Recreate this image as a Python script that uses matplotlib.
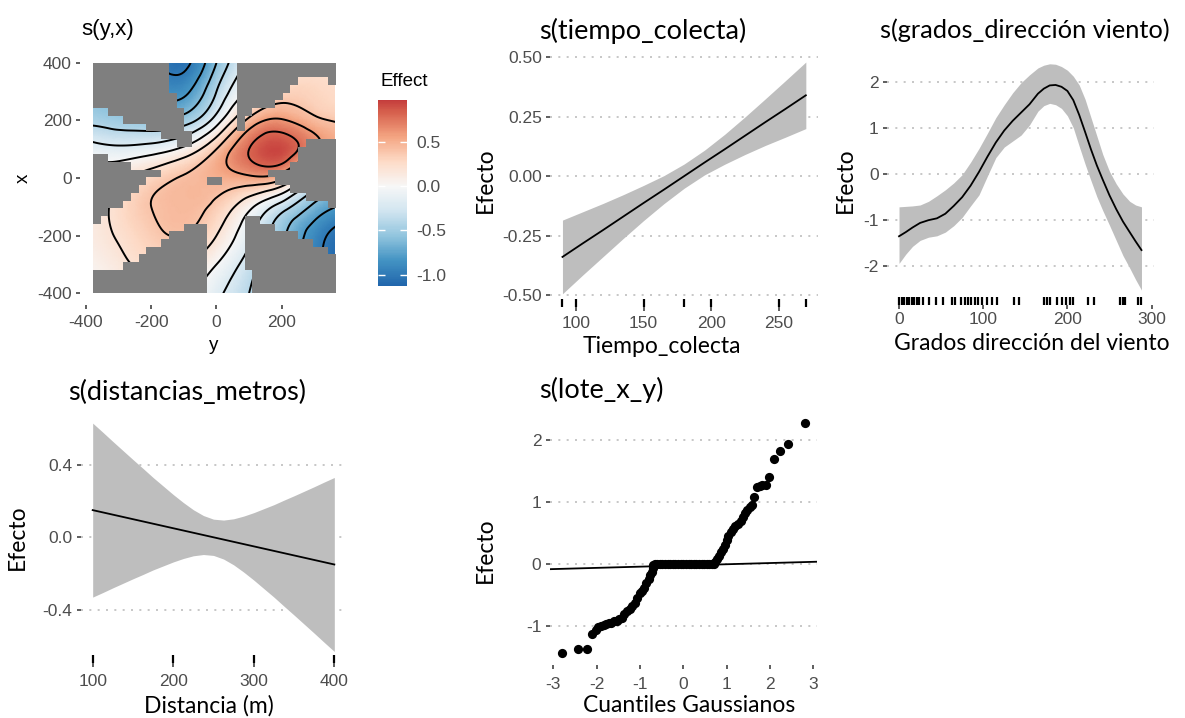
import numpy as np
import matplotlib
matplotlib.use("Agg")
import matplotlib.pyplot as plt
import matplotlib.tri as mtri
from matplotlib.colors import Normalize, ListedColormap, LinearSegmentedColormap
from matplotlib.cm import ScalarMappable
from matplotlib.patches import Rectangle

W, H = 1185, 718
plt.rcParams['axes.unicode_minus'] = False
plt.rcParams['font.family'] = ['Liberation Sans', 'DejaVu Sans']

# ---------------- data ----------------
# s(y,x): effect read on a coarse grid (rows: x = 400 .. -400, cols: y = -400 .. 400)
grid_y = [-400, -300, -200, -100, 0, 100, 200, 300, 400]
grid_x = [400, 300, 200, 100, 0, -100, -200, -300, -400]
effect_grid = [
    [-0.55, -0.70, -0.90, -1.05, -0.60, -0.15, 0.10, 0.20, 0.20],
    [-0.55, -0.65, -0.80, -0.85, -0.40, 0.05, 0.30, 0.30, 0.25],
    [-0.45, -0.50, -0.55, -0.50, -0.10, 0.45, 0.62, 0.45, 0.35],
    [-0.10, -0.15, -0.10, 0.05, 0.40, 0.80, 0.93, 0.62, 0.40],
    [0.05, 0.15, 0.30, 0.42, 0.50, 0.55, 0.45, -0.10, -0.30],
    [0.10, 0.25, 0.40, 0.45, 0.35, 0.05, -0.30, -0.65, -0.85],
    [0.10, 0.22, 0.35, 0.40, 0.20, -0.15, -0.55, -0.90, -1.10],
    [0.05, 0.15, 0.25, 0.20, 0.00, -0.30, -0.65, -0.95, -1.15],
    [0.00, 0.10, 0.10, 0.05, -0.15, -0.40, -0.70, -1.00, -1.15],
]
# cells too far from data (grey), y = -380 .. 363 left to right, x = 400 .. -400 top to bottom
too_far = [
    "##########.........#############",
    "##########.........#############",
    "##########.........########....#",
    "##########.........#######......",
    "###########........######.......",
    "###########........#####........",
    "..##########.......##...........",
    "....########.......#............",
    ".......#####.......#............",
    ".........####...................",
    "...........##...............####",
    "...........................#####",
    "##.........................#####",
    "#####.....................######",
    "#########..............#########",
    "#######........##.......########",
    "######....................######",
    "#####.......................####",
    "####...........................#",
    "##..............................",
    "#...................##..........",
    "............###.....####........",
    "..........#####.....#######.....",
    ".........######.....#########...",
    ".......########.....###########.",
    "......#########.....############",
    "....###########.....############",
    "###############......###########",
    "###############......###########",
    "###############......###########",
]
contour_levels = [-1.0, -0.8, -0.6, -0.4, -0.2, 0.0, 0.2, 0.4, 0.6, 0.8]
effect_min, effect_max = -1.13, 0.98

# s(tiempo_colecta)
tiempo = [90, 105, 120, 135, 150, 165, 180, 195, 210, 225, 240, 255, 270]
tiempo_fit = [-0.34, -0.283, -0.227, -0.170, -0.113, -0.057, 0.0, 0.057, 0.113, 0.170, 0.227, 0.283, 0.34]
tiempo_lo = [-0.495, -0.416, -0.339, -0.262, -0.187, -0.116, -0.051, 0.005, 0.050, 0.091, 0.129, 0.164, 0.200]
tiempo_hi = [-0.185, -0.150, -0.115, -0.078, -0.039, 0.002, 0.051, 0.109, 0.176, 0.249, 0.325, 0.402, 0.480]
tiempo_rug = [90, 100, 150, 180, 200, 250, 270]

# s(grados_dirección viento)
grados = [0, 8, 16, 25, 35, 45, 55, 65, 75, 85, 95, 105, 115, 125, 135, 145, 155, 165, 172,
          179, 186, 193, 200, 207, 214, 221, 228, 235, 242, 250, 258, 266, 274, 281, 288]
grados_fit = [-1.36, -1.27, -1.17, -1.07, -1.01, -0.97, -0.87, -0.70, -0.51, -0.26, 0.04,
              0.37, 0.68, 0.94, 1.15, 1.33, 1.51, 1.74, 1.85, 1.92, 1.93, 1.89, 1.80, 1.60,
              1.28, 0.91, 0.53, 0.18, -0.13, -0.47, -0.77, -1.04, -1.27, -1.47, -1.66]
grados_lo = [-1.95, -1.75, -1.58, -1.45, -1.38, -1.35, -1.27, -1.13, -0.95, -0.70, -0.46,
             -0.05, 0.35, 0.58, 0.71, 0.84, 1.06, 1.36, 1.48, 1.53, 1.50, 1.42, 1.26, 1.00,
             0.60, 0.21, -0.15, -0.50, -0.80, -1.12, -1.45, -1.78, -2.05, -2.30, -2.53]
grados_hi = [-0.72, -0.71, -0.70, -0.68, -0.60, -0.48, -0.35, -0.20, -0.02, 0.25, 0.55,
             0.88, 1.22, 1.50, 1.76, 1.98, 2.15, 2.30, 2.36, 2.39, 2.38, 2.33, 2.25, 2.12,
             1.93, 1.62, 1.22, 0.82, 0.42, 0.05, -0.22, -0.44, -0.60, -0.68, -0.72]
grados_rug = [0, 3, 6, 9, 12, 15, 18, 21, 24, 28, 36, 44, 52, 63, 67, 74, 78, 82, 86, 90,
              94, 99, 104, 110, 116, 136, 143, 172, 176, 179, 188, 193, 198, 203, 207,
              225, 232, 263, 266, 268, 284, 287]

# s(distancias_metros)
distancia = [100, 112.5, 125, 137.5, 150, 162.5, 175, 187.5, 200, 212.5, 225, 237.5, 250,
             262.5, 275, 287.5, 300, 312.5, 325, 337.5, 350, 362.5, 375, 387.5, 400]
dist_fit = [0.15, 0.1375, 0.125, 0.1125, 0.10, 0.0875, 0.075, 0.0625, 0.05, 0.0375, 0.025,
            0.0125, 0.0, -0.0125, -0.025, -0.0375, -0.05, -0.0625, -0.075, -0.0875, -0.10,
            -0.1125, -0.125, -0.1375, -0.15]
dist_hi = [0.630, 0.580, 0.529, 0.479, 0.429, 0.380, 0.330, 0.283, 0.236, 0.192, 0.152, 0.120,
           0.100, 0.095, 0.102, 0.117, 0.136, 0.158, 0.180, 0.205, 0.229, 0.254, 0.279, 0.305, 0.330]
dist_lo = [-0.330, -0.305, -0.279, -0.254, -0.229, -0.205, -0.180, -0.158, -0.136, -0.117,
           -0.102, -0.095, -0.100, -0.120, -0.152, -0.192, -0.236, -0.283, -0.330, -0.380,
           -0.429, -0.479, -0.529, -0.580, -0.630]
dist_rug = [100, 200, 300, 400]

# s(lote_x_y): QQ plot of random effects
qq_theo = [-2.79, -2.42, -2.22, -2.10, -2.02, -1.96, -1.90, -1.84, -1.78, -1.72, -1.66, -1.60,
           -1.54, -1.48, -1.42, -1.36, -1.30, -1.24, -1.18, -1.12, -1.06, -1.00, -0.95, -0.90,
           -0.85, -0.80, -0.76, -0.73, -0.71, -0.69,
           -0.66, -0.60, -0.54, -0.48, -0.42, -0.36, -0.30, -0.24, -0.18, -0.12, -0.06, 0.0,
           0.06, 0.12, 0.18, 0.24, 0.30, 0.36, 0.42, 0.48, 0.54, 0.60, 0.66, 0.70,
           0.74, 0.78, 0.82, 0.86, 0.91, 0.96, 1.00, 1.04, 1.09, 1.14, 1.20, 1.26, 1.32, 1.37,
           1.42, 1.47, 1.53, 1.58, 1.64, 1.70, 1.76, 1.82, 1.90, 1.98, 2.10, 2.23, 2.42, 2.80]
qq_effect = [-1.43, -1.36, -1.36, -1.13, -1.06, -1.02, -1.00, -0.98, -0.96, -0.95, -0.94, -0.92,
             -0.91, -0.89, -0.86, -0.80, -0.76, -0.72, -0.68, -0.63, -0.55, -0.47, -0.43, -0.39,
             -0.31, -0.24, -0.17, -0.12, -0.06, -0.02,
             0.0, 0.0, 0.0, 0.0, 0.0, 0.0, 0.0, 0.0, 0.0, 0.0, 0.0, 0.0,
             0.0, 0.0, 0.0, 0.0, 0.0, 0.0, 0.0, 0.0, 0.0, 0.0, 0.0, 0.0,
             0.03, 0.09, 0.14, 0.20, 0.25, 0.31, 0.39, 0.46, 0.52, 0.57, 0.61, 0.65, 0.70, 0.76,
             0.82, 0.88, 0.92, 0.95, 1.09, 1.24, 1.26, 1.27, 1.28, 1.41, 1.69, 1.83, 1.94, 2.28]
qq_line_x = [-3.08, 3.08]
qq_line_y = [-0.08, 0.04]

# ---------------- helpers ----------------
TICK_GREY = '#4D4D4D'
BAND = '#BEBEBE'
TITLE_FONT = 'Lato'
TITLE_SIZE = 19.5
LABEL_SIZE = 16.5


def rect(x0, y0, x1, y1):
    # pixel box (top-left origin) -> figure fraction
    return [x0 / W, 1 - y1 / H, (x1 - x0) / W, (y1 - y0) / H]


def put(x, y, s, **kw):
    fig.text(x / W, 1 - y / H, s, **kw)


def style(ax, xpad, ypad=3):
    for s in ax.spines.values():
        s.set_visible(False)
    ax.tick_params(axis='both', length=3, width=1.1, color='#333333',
                   labelcolor=TICK_GREY, labelsize=12.5)
    ax.tick_params(axis='x', pad=xpad)
    ax.tick_params(axis='y', pad=ypad)
    ax.grid(axis='y', linestyle=(0, (1.2, 3.8)), color='#BDBDBD', linewidth=1.2)
    ax.grid(axis='x', visible=False)
    ax.set_axisbelow(True)
    ax.set_facecolor('none')


def rug(ax, values):
    ax.vlines(values, 0, 0.03, transform=ax.get_xaxis_transform(), colors='black',
              linewidth=1.6, clip_on=False)


fig = plt.figure(figsize=(W / 100, H / 100), dpi=100)

# ---------------- s(y,x) ----------------
base = LinearSegmentedColormap.from_list('rdbu', ['#2166AC', '#4393C3', '#92C5DE', '#D1E5F0', '#F7F7F7',
                                                  '#FDDBC7', '#F4A582', '#D6604D', '#B2182B'])
cmap = ListedColormap(base(np.linspace(0, 0.5 + effect_max / (2 * -effect_min), 256)))
norm = Normalize(effect_min, effect_max)

ax1 = fig.add_axes(rect(86, 62.7, 335.5, 293.3))
Yg, Xg = np.meshgrid(grid_y, grid_x)
tri = mtri.Triangulation(Yg.ravel(), Xg.ravel())
tri_f, z_f = mtri.UniformTriRefiner(tri).refine_field(np.array(effect_grid).ravel(), subdiv=4)
clip = Rectangle((-380, -400), 743, 800, transform=ax1.transData)
pc = ax1.tripcolor(tri_f, z_f, shading='gouraud', cmap=cmap, norm=norm)
pc.set_clip_path(clip)
cs = ax1.tricontour(tri_f, z_f, levels=contour_levels, colors='black', linewidths=1.4,
                    linestyles='solid')
cs.set_clip_path(clip)
grey = np.array([[c == '#' for c in row] for row in too_far])
mask_img = np.zeros(grey.shape + (4,))
mask_img[grey] = (0.5, 0.5, 0.5, 1.0)
ax1.imshow(mask_img, extent=(-380, 363, -400, 400), interpolation='nearest', aspect='auto', zorder=5)
ax1.set_xlim(-400, 365)
ax1.set_ylim(-400, 400)
for s in ax1.spines.values():
    s.set_visible(False)
ax1.spines['bottom'].set_position(('outward', 8.6))
ax1.spines['left'].set_position(('outward', 4.3))
ax1.set_xticks([-400, -200, 0, 200])
ax1.set_yticks([-400, -200, 0, 200, 400])
ax1.tick_params(axis='both', length=3, width=1.1, color='#333333', labelcolor=TICK_GREY, labelsize=12.5)
ax1.tick_params(axis='x', pad=4)
ax1.tick_params(axis='y', pad=3)

cax = fig.add_axes(rect(378, 100, 407, 286))
cb = fig.colorbar(ScalarMappable(norm=norm, cmap=cmap), cax=cax, ticks=[-1.0, -0.5, 0.0, 0.5])
cb.outline.set_visible(False)
cax.set_yticklabels(['-1.0', '-0.5', '0.0', '0.5'])
cax.tick_params(which='both', direction='in', color='white', length=5, width=1,
                left=True, right=True, labelsize=12.5, labelcolor=TICK_GREY, pad=7)
cax.minorticks_off()

put(81, 30, 's(y,x)', fontsize=16, va='center', ha='left')
put(23, 178, 'x', fontsize=13.5, va='center', ha='center', rotation=90)
put(214, 345, 'y', fontsize=13.5, va='center', ha='center')
put(380, 82, 'Effect', fontsize=13.5, va='center', ha='left')

# ---------------- s(tiempo_colecta) ----------------
ax2 = fig.add_axes(rect(550.3, 50.4, 818, 306.6))
ax2.fill_between(tiempo, tiempo_lo, tiempo_hi, color=BAND, linewidth=0)
ax2.plot(tiempo, tiempo_fit, color='black', linewidth=1.3)
rug(ax2, tiempo_rug)
ax2.set_xlim(81, 279)
ax2.set_ylim(-0.549, 0.529)
ax2.set_xticks([100, 150, 200, 250])
ax2.set_yticks([-0.5, -0.25, 0, 0.25, 0.5])
ax2.set_yticklabels(['-0.50', '-0.25', '0.00', '0.25', '0.50'])
style(ax2, xpad=3.5)
put(539, 31, 's(tiempo_colecta)', fontsize=TITLE_SIZE, family=TITLE_FONT, va='center', ha='left')
put(662, 346, 'Tiempo_colecta', fontsize=LABEL_SIZE, family=TITLE_FONT, va='center', ha='center')
put(485, 180, 'Efecto', fontsize=LABEL_SIZE, family=TITLE_FONT, va='center', ha='center', rotation=90)

# ---------------- s(grados_dirección viento) ----------------
ax3 = fig.add_axes(rect(886.9, 52.3, 1153.6, 304.8))
ax3.fill_between(grados, grados_lo, grados_hi, color=BAND, linewidth=0)
ax3.plot(grados, grados_fit, color='black', linewidth=1.3)
rug(ax3, grados_rug)
ax3.set_xlim(-14.4, 302.4)
ax3.set_ylim(-2.85, 2.64)
ax3.set_xticks([0, 100, 200, 300])
ax3.set_yticks([-2, -1, 0, 1, 2])
style(ax3, xpad=2.5)
put(880, 30, 's(grados_dirección viento)', fontsize=18.3, family=TITLE_FONT, va='center', ha='left')
put(1032, 343, 'Grados dirección del viento', fontsize=LABEL_SIZE, family=TITLE_FONT, va='center', ha='center')
put(845, 180, 'Efecto', fontsize=LABEL_SIZE, family=TITLE_FONT, va='center', ha='center', rotation=90)

# ---------------- s(distancias_metros) ----------------
ax4 = fig.add_axes(rect(80.6, 411.7, 346.4, 662.9))
ax4.fill_between(distancia, dist_lo, dist_hi, color=BAND, linewidth=0)
ax4.plot(distancia, dist_fit, color='black', linewidth=1.3)
rug(ax4, dist_rug)
ax4.set_xlim(85, 415)
ax4.set_ylim(-0.693, 0.693)
ax4.set_xticks([100, 200, 300, 400])
ax4.set_yticks([-0.4, 0.0, 0.4])
ax4.set_yticklabels(['-0.4', '0.0', '0.4'])
style(ax4, xpad=5)
put(68, 392, 's(distancias_metros)', fontsize=TITLE_SIZE, family=TITLE_FONT, va='center', ha='left')
put(209, 706, 'Distancia (m)', fontsize=LABEL_SIZE, family=TITLE_FONT, va='center', ha='center')
put(17, 537, 'Efecto', fontsize=LABEL_SIZE, family=TITLE_FONT, va='center', ha='center', rotation=90)

# ---------------- s(lote_x_y) ----------------
ax5 = fig.add_axes(rect(549.8, 411, 816.8, 664.7))
ax5.scatter(qq_theo, qq_effect, s=44, color='black', linewidths=0, zorder=3)
ax5.plot(qq_line_x, qq_line_y, color='black', linewidth=1.3, zorder=4)
ax5.set_xlim(-3.08, 3.08)
ax5.set_ylim(-1.62, 2.47)
ax5.set_xticks([-3, -2, -1, 0, 1, 2, 3])
ax5.set_yticks([-1, 0, 1, 2])
style(ax5, xpad=6)
put(539, 390, 's(lote_x_y)', fontsize=TITLE_SIZE, family=TITLE_FONT, va='center', ha='left')
put(689, 706, 'Cuantiles Gaussianos', fontsize=LABEL_SIZE, family=TITLE_FONT, va='center', ha='center')
put(485, 550, 'Efecto', fontsize=LABEL_SIZE, family=TITLE_FONT, va='center', ha='center', rotation=90)

fig.savefig('out.png', dpi=100, facecolor='white')
